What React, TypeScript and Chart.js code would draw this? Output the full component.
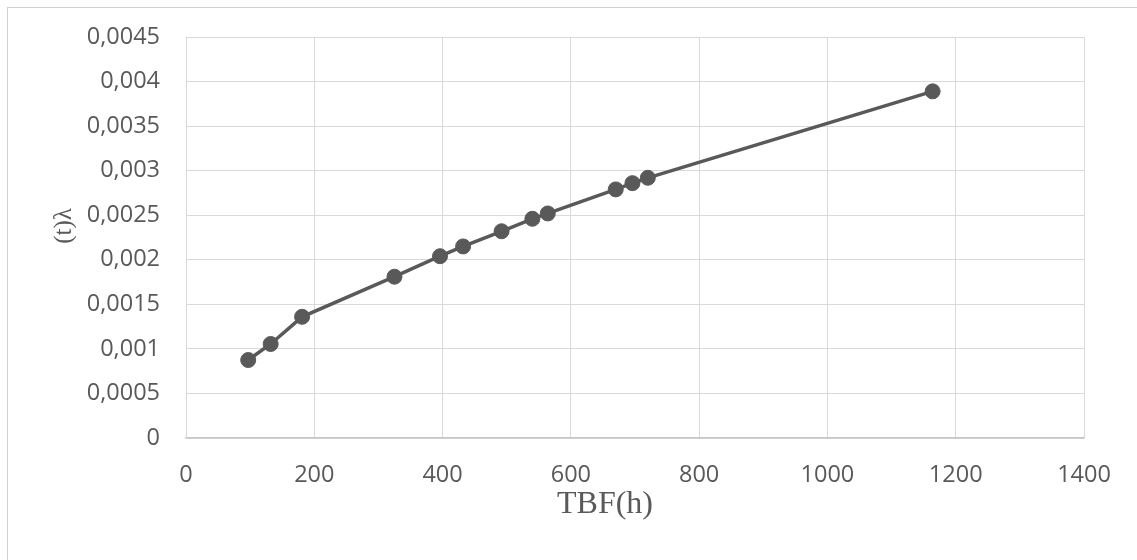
import React, { useEffect, useRef } from "react";
import { Chart, registerables } from "chart.js";

Chart.register(...registerables);

// Data
const tbfHours: number[] = [97, 132, 181, 325, 396, 432, 492, 540, 564, 670, 696, 720, 1164];
const lambdaValues: number[] = [
  0.000875, 0.001055, 0.00136, 0.00181, 0.00204, 0.00215, 0.00232, 0.00246, 0.00252, 0.00279, 0.00286,
  0.00292, 0.00389,
];
const xTitle = "TBF(h)";
const yTitle = "(t)λ";

const GRAY = "#595959";
const TICK_FONT = { family: "'Open Sans', sans-serif", size: 23.5 };

const titlesPlugin = {
  id: "customTitles",
  afterDraw(chart: any) {
    const ctx = chart.ctx as CanvasRenderingContext2D;
    ctx.save();
    ctx.fillStyle = GRAY;
    ctx.textAlign = "center";
    ctx.textBaseline = "middle";
    ctx.font = "32px 'Liberation Serif', serif";
    ctx.fillText(xTitle, 597, 497);
    ctx.translate(56, 218);
    ctx.rotate(-Math.PI / 2);
    ctx.font = "25px 'Liberation Serif', serif";
    ctx.fillText(yTitle, 0, 0);
    ctx.restore();
  },
};

export default function App() {
  const canvasRef = useRef<HTMLCanvasElement | null>(null);

  useEffect(() => {
    document.documentElement.style.overflow = "hidden";
    document.body.style.overflow = "hidden";
    const canvas = canvasRef.current;
    if (!canvas) return;
    const points = tbfHours.map((x, i) => ({ x, y: lambdaValues[i] }));
    const chart = new Chart(canvas, {
      type: "scatter",
      data: {
        datasets: [
          {
            data: points,
            showLine: true,
            borderColor: GRAY,
            backgroundColor: GRAY,
            borderWidth: 3.5,
            pointRadius: 7.5,
            pointBorderWidth: 1,
            pointBorderColor: GRAY,
            pointBackgroundColor: GRAY,
          },
        ],
      },
      options: {
        responsive: false,
        animation: false,
        layout: { padding: { left: 0, top: 29, right: 53, bottom: 0 } },
        plugins: { legend: { display: false }, tooltip: { enabled: false } },
        scales: {
          x: {
            type: "linear",
            min: 0,
            max: 1400,
            afterFit: (scale: any) => {
              scale.height = 122;
            },
            ticks: {
              stepSize: 200,
              color: GRAY,
              font: TICK_FONT,
              padding: 23,
              maxRotation: 0,
              callback: (v: any) => String(Number(v)),
            },
            grid: { color: "#d9d9d9", lineWidth: 1, drawTicks: false },
            border: { color: "#c6c6c6", width: 1.5 },
          },
          y: {
            type: "linear",
            min: 0,
            max: 0.0045,
            afterFit: (scale: any) => {
              scale.width = 178;
              scale.paddingTop = 0;
              scale.paddingBottom = 0;
            },
            ticks: {
              stepSize: 0.0005,
              color: GRAY,
              font: TICK_FONT,
              padding: 26,
              callback: (v: any) => String(Math.round(Number(v) * 10000) / 10000).replace(".", ","),
            },
            grid: { color: "#d9d9d9", lineWidth: 1, drawTicks: false },
            border: { color: "#d9d9d9", width: 1 },
          },
        },
      },
      plugins: [titlesPlugin],
    });
    return () => chart.destroy();
  }, []);

  return (
    <div
      style={{
        position: "absolute",
        left: 7,
        top: 7,
        width: 1200,
        height: 600,
        border: "1px solid #d0d0d0",
        background: "#fff",
      }}
    >
      <canvas
        ref={canvasRef}
        width={1129}
        height={552}
        style={{ display: "block", position: "absolute", left: 0, top: 0 }}
      />
    </div>
  );
}
